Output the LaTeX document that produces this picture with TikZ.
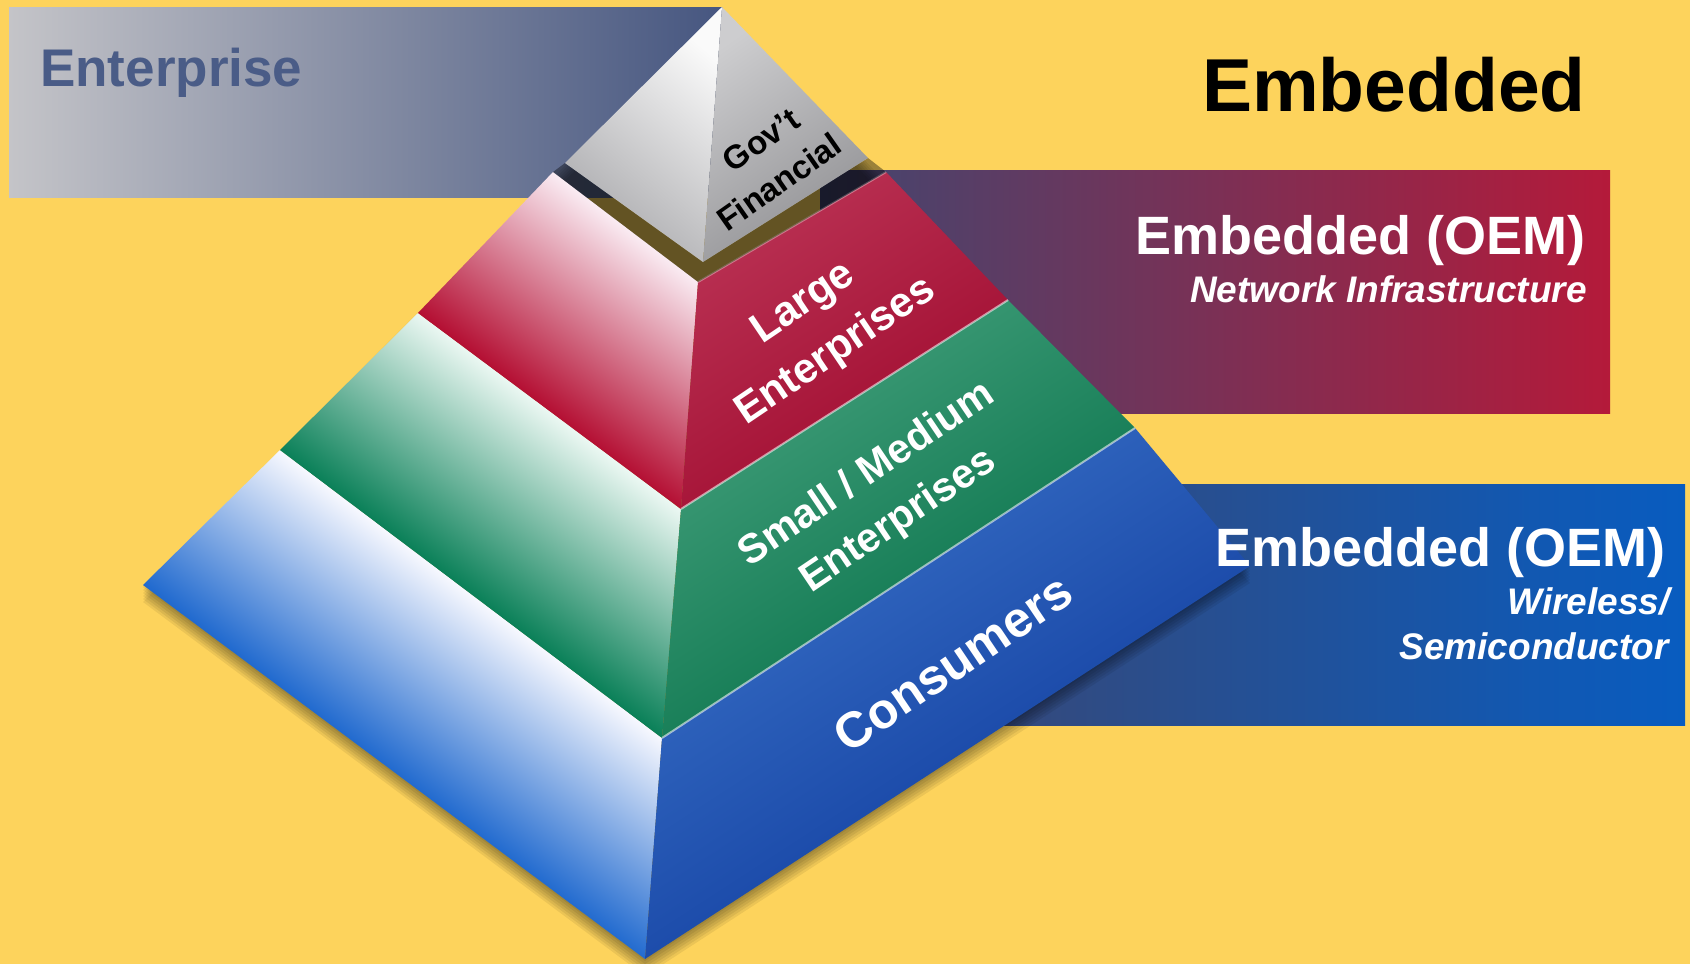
\documentclass[tikz,border=0pt]{standalone}
\usepackage{fontspec}
\setmainfont{Liberation Sans}
\definecolor{bgY}{RGB}{253,211,92}
\definecolor{entL}{RGB}{196,196,200}
\definecolor{entR}{RGB}{70,86,128}
\definecolor{entT}{RGB}{74,92,135}
\definecolor{redL}{RGB}{66,70,112}
\definecolor{redR}{RGB}{180,26,58}
\definecolor{bluL}{RGB}{55,72,120}
\definecolor{bluR}{RGB}{8,92,192}
\definecolor{govA}{RGB}{250,250,250}
\definecolor{govB}{RGB}{170,170,173}
\definecolor{govC}{RGB}{205,205,207}
\definecolor{govD}{RGB}{145,145,148}
\definecolor{rlT}{RGB}{250,236,243}
\definecolor{rlM}{RGB}{214,100,132}
\definecolor{rlB}{RGB}{180,14,50}
\definecolor{rrT}{RGB}{186,50,84}
\definecolor{rrB}{RGB}{158,8,44}
\definecolor{glT}{RGB}{236,248,243}
\definecolor{glM}{RGB}{96,180,148}
\definecolor{glB}{RGB}{10,128,88}
\definecolor{grT}{RGB}{68,160,124}
\definecolor{grB}{RGB}{0,108,68}
\definecolor{blT}{RGB}{250,250,255}
\definecolor{blM}{RGB}{140,180,232}
\definecolor{blB}{RGB}{30,104,206}
\definecolor{brT}{RGB}{58,114,200}
\definecolor{brB}{RGB}{10,52,152}
\newcommand{\fsz}[2]{\fontsize{#1}{#2}\selectfont}
\tikzset{
  rface/.style={top color=#1T, bottom color=#1B, shading angle=33},
  wtxt/.style={text=white, inner sep=0pt},
  govtxt/.style={text=black, inner sep=0pt, rotate=35, font=\fsz{33}{40}\bfseries},
  bandbig/.style={font=\fsz{54}{60}\bfseries},
  bandsmall/.style={font=\fsz{37}{42}\bfseries\itshape},
}
\begin{document}
\begin{tikzpicture}[x=1pt,y=-1pt]
\useasboundingbox (0,0) rectangle (1690,964);
\fill[bgY] (0,0) rectangle (1690,964);

% bands
\shade[left color=entL, right color=entR] (9,7) rectangle (722,197);
\shade[left color=redL, right color=redR] (820,170) rectangle (1610,413);
\shade[left color=bluL, right color=bluR] (960,484) rectangle (1685,725);

% pyramid shadow
\foreach \d in {2,5,8,11,14,17}{
  \fill[black, opacity=0.07, shift={(0,\d)}] (143,585) -- (645,959) -- (1250,566) -- (722,7) -- cycle;
}

% left faces (gradient across each band, light at the top edge)
\begin{scope}
  \clip (280,450) -- (662,738) -- (645,959) -- (143,585) -- cycle;
  \begin{scope}[transform canvas={rotate around={-37:(432,683)}}]
    \shade[top color=blT, middle color=blM, bottom color=blB] (-100,586) rectangle (1000,780);
  \end{scope}
\end{scope}
\begin{scope}
  \clip (418,313) -- (681,509) -- (662,738) -- (280,450) -- cycle;
  \begin{scope}[transform canvas={rotate around={-37:(510,502)}}]
    \shade[top color=glT, middle color=glM, bottom color=glB] (-100,405) rectangle (1100,599);
  \end{scope}
\end{scope}
\begin{scope}
  \clip (553,172) -- (698,282) -- (681,509) -- (418,313) -- cycle;
  \begin{scope}[transform canvas={rotate around={-37:(587,319)}}]
    \shade[top color=rlT, middle color=rlM, bottom color=rlB] (0,222) rectangle (1200,416);
  \end{scope}
\end{scope}

% right faces
\shade[rface=br] (662,738) -- (1135,428) -- (1250,566) -- (645,959) -- cycle;
\shade[rface=gr] (681,509) -- (1008,300) -- (1135,428) -- (662,738) -- cycle;
\shade[rface=rr] (698,282) -- (886,172) -- (1008,300) -- (681,509) -- cycle;

% highlights between layers
\draw[white, opacity=0.55, line width=2] (681,509) -- (1008,300);
\draw[white, opacity=0.55, line width=2] (662,738) -- (1135,428);
\draw[white, opacity=0.35, line width=2] (698,282) -- (886,172);

% gap shadow under the cap
\fill[black, opacity=0.38] (553,172) -- (698,282) -- (886,172) -- (868,158) -- (703,262) -- (565,163) -- cycle;

% Gov't cap
\shade[top color=govA, bottom color=govB, shading angle=-40] (722,7) -- (703,262) -- (565,163) -- cycle;
\shade[top color=govC, bottom color=govD, shading angle=35] (722,7) -- (868,158) -- (703,262) -- cycle;

% titles
\node[anchor=base west, inner sep=0pt, text=entT, font=\fsz{53}{60}\bfseries] (enttxt) at (40,86) {Enterprise};
\node[anchor=base west, inner sep=0pt, text=black, font=\fsz{75}{80}\bfseries] (embtxt) at (1202,111) {Embedded};

% red band texts
\node[wtxt, bandbig, anchor=base east] (oemA) at (1586,254) {Embedded (OEM)};
\node[wtxt, bandsmall, anchor=base east] (net) at (1587,302) {Network Infrastructure};

% blue band texts
\node[wtxt, bandbig, anchor=base east] (oemB) at (1666,566) {Embedded (OEM)};
\node[wtxt, bandsmall, anchor=base east] (wir) at (1670,614) {Wireless/};
\node[wtxt, bandsmall, anchor=base east] (sem) at (1669,659) {Semiconductor};

% pyramid labels
\node[govtxt] (gov) at (761,140) {Gov’t};
\node[govtxt] (fin) at (779,182) {Financial};
\node[wtxt, align=center, rotate=34, font=\fsz{42}{58}\bfseries] (large) at (820,328) {Large\\Enterprises};
\node[wtxt, align=center, rotate=34, font=\fsz{41}{56}\bfseries] (sme) at (883,498) {Small / Medium\\Enterprises};
\node[wtxt, rotate=34, font=\fsz{50}{56}\bfseries] (cons) at (953,663) {Consumers};
\end{tikzpicture}
\end{document}
